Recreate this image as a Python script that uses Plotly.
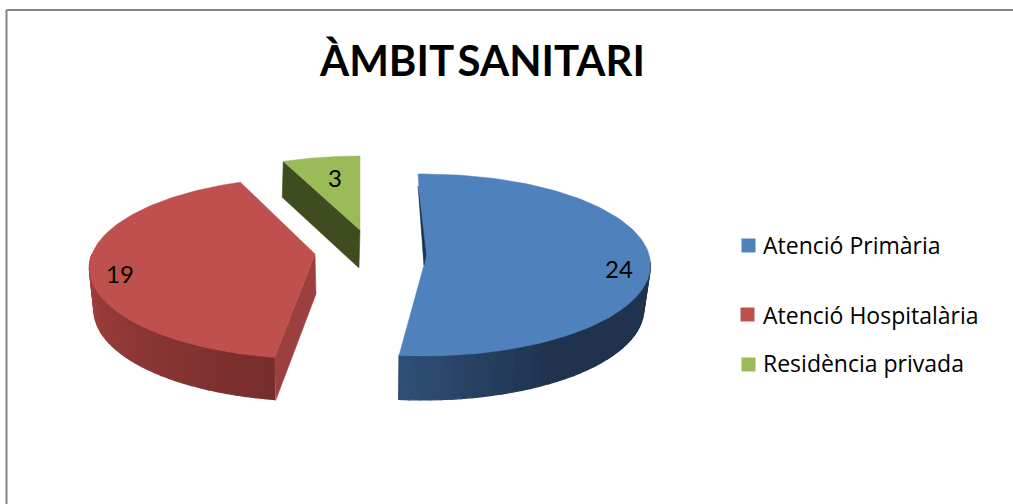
import math
import numpy as np
import plotly.graph_objects as go

# ---- data ----
title_text = ["ÀMBIT", "SANITARI"]
categories = ["Atenció Primària", "Atenció Hospitalària", "Residència privada"]
values = [24, 19, 3]

# ---- style ----
top_colors = ["#4F81BD", "#C0504D", "#9BBB59"]
wall_light = ["#2F4E75", "#A5433F", "#3F4C20"]
wall_dark = ["#1F334E", "#772D2C", "#3F4C20"]
facet_colors = ["#1F334E", "#9B403E", "#3F4C20"]
FONT = "Lato, Carlito, Calibri, sans-serif"

# ---- 3D pie projection (screen pixels) ----
W, H = 1013, 504
START = 90.0                 # angle of first slice, counter-clockwise from +x
apex_x = [424, 315, 360]
apex_y = [265, 254, 230]
semi_x = [226.5, 223, 220]
semi_y = [91, 88.8, 85.4]
persp = [0.0, 0.154, 0.154]
rotate = [1.5, -1.0, 0.0]
depth = [44, 42, 37]
wall_shrink = [0.975, 0.975, 1.0]

label_xy = [(619, 272), (120, 277), (335, 181)]
legend_marker_xy = [(748.5, 245.5), (747.5, 314.5), (748.5, 364.5)]
legend_text_x = 761
legend_text_y = [245, 315, 363]


def top_point(i, theta):
    t = np.radians(theta)
    d = 1 + persp[i] * np.sin(t)
    return (apex_x[i] + semi_x[i] * np.cos(t) / d,
            apex_y[i] - semi_y[i] * np.sin(t) / d)


def low_point(i, theta):
    x, y = top_point(i, theta)
    return (apex_x[i] + (x - apex_x[i]) * wall_shrink[i] - 1, y + depth[i])


def mix(c1, c2, f):
    a = [int(c1[k:k + 2], 16) for k in (1, 3, 5)]
    b = [int(c2[k:k + 2], 16) for k in (1, 3, 5)]
    return "rgb(%d,%d,%d)" % tuple(round(p + (q - p) * f) for p, q in zip(a, b))


def poly(xs, ys, color, name, lw=0.5):
    return go.Scatter(x=list(xs), y=list(ys), mode="lines", fill="toself",
                      fillcolor=color, line=dict(width=lw, color=color),
                      hoverinfo="skip", name=name, showlegend=False)


fig = go.Figure()
total = sum(values)
spans = [v / total * 360 for v in values]

cum = 0.0
slices = []
for i, s in enumerate(spans):
    a0 = START - cum + rotate[i]      # clockwise from first slice
    a1 = a0 - s
    slices.append((a0, a1))
    cum += s

for i, (a0, a1) in enumerate(slices):
    name = categories[i]
    # outer wall strips (gradient)
    wall = {0: (2.0, a1), 1: (-180.0, a0)}.get(i)
    if wall is not None:
        n = 36
        edges = np.linspace(wall[0], wall[1], n + 1)
        for k in range(n):
            p = [top_point(i, edges[k]), top_point(i, edges[k + 1]),
                 low_point(i, edges[k + 1]), low_point(i, edges[k])]
            f = k / (n - 1)
            if i == 0:
                c = mix(wall_dark[0], wall_light[0], max(0, (f - 0.6) / 0.4))
            else:
                c = mix(wall_light[i], wall_dark[i], f)
            fig.add_trace(poly([q[0] for q in p] + [p[0][0]],
                               [q[1] for q in p] + [p[0][1]], c, name, lw=1.2))
    # radial facets
    ax, ay = apex_x[i], apex_y[i]
    if i == 1:
        cx, cy = top_point(i, a0)
        lx, ly = low_point(i, a0)
        fig.add_trace(poly([ax, cx, lx + 1, ax + 1, ax], [ay, cy, ly + 1, ay + depth[i] - 2, ay],
                           facet_colors[i], name))
    if i == 2:
        cx, cy = top_point(i, a0)
        lx, ly = low_point(i, a0)
        fig.add_trace(poly([ax, cx, lx, ax - 1, ax], [ay, cy, ly - 1, ay + depth[i] + 1, ay],
                           facet_colors[i], name))
    # top face
    arc = np.linspace(a0, a1, 120)
    pts = [top_point(i, t) for t in arc]
    fig.add_trace(poly([ax] + [q[0] for q in pts] + [ax],
                       [ay] + [q[1] for q in pts] + [ay], top_colors[i], name))
    if i == 0:
        cx, cy = top_point(i, a0)
        fig.add_trace(poly([cx, cx + 4, ax + 2, ax, cx],
                           [cy + 12, cy + 45, ay - 10, ay, cy + 12],
                           facet_colors[0], name))

# data labels
fig.add_trace(go.Scatter(
    x=[p[0] for p in label_xy], y=[p[1] for p in label_xy],
    mode="text", text=[str(v) for v in values],
    textfont=dict(family=FONT, size=24, color="#000000"),
    textposition="middle center", hoverinfo="skip", showlegend=False))

# legend
fig.add_trace(go.Scatter(
    x=[p[0] for p in legend_marker_xy], y=[p[1] for p in legend_marker_xy],
    mode="markers",
    marker=dict(symbol="square", size=14, color=top_colors, line=dict(width=0)),
    hoverinfo="skip", showlegend=False))
for name, y in zip(categories, legend_text_y):
    fig.add_annotation(x=legend_text_x, y=y, xref="x", yref="y", text=name,
                       showarrow=False, xanchor="left", yanchor="middle",
                       font=dict(family="Open Sans, sans-serif", size=23, color="#000000"))

# title (narrow word gap as in the reference)
fig.add_annotation(x=481.5, y=60, xref="x", yref="y",
                   text='<b>%s<span style="font-size:14px"> </span>%s</b>' % tuple(title_text),
                   showarrow=False, xanchor="center", yanchor="middle",
                   font=dict(family=FONT, size=42, color="#000000"))

# chart frame: only the top and left edges fall inside the picture
frame = dict(color="#868686", width=2)
fig.add_shape(type="line", x0=6.5, x1=W, y0=10, y1=10, xref="x", yref="y", line=frame)
fig.add_shape(type="line", x0=6.5, x1=6.5, y0=10, y1=H, xref="x", yref="y", line=frame)

fig.update_layout(
    width=W, height=H, margin=dict(l=0, r=0, t=0, b=0),
    paper_bgcolor="#FFFFFF", plot_bgcolor="#FFFFFF", showlegend=False,
    xaxis=dict(range=[0, W], visible=False, fixedrange=True),
    yaxis=dict(range=[H, 0], visible=False, fixedrange=True),
)

fig.write_html("out.html", config={"displayModeBar": False},
               post_script="document.body.style.margin='0';")
